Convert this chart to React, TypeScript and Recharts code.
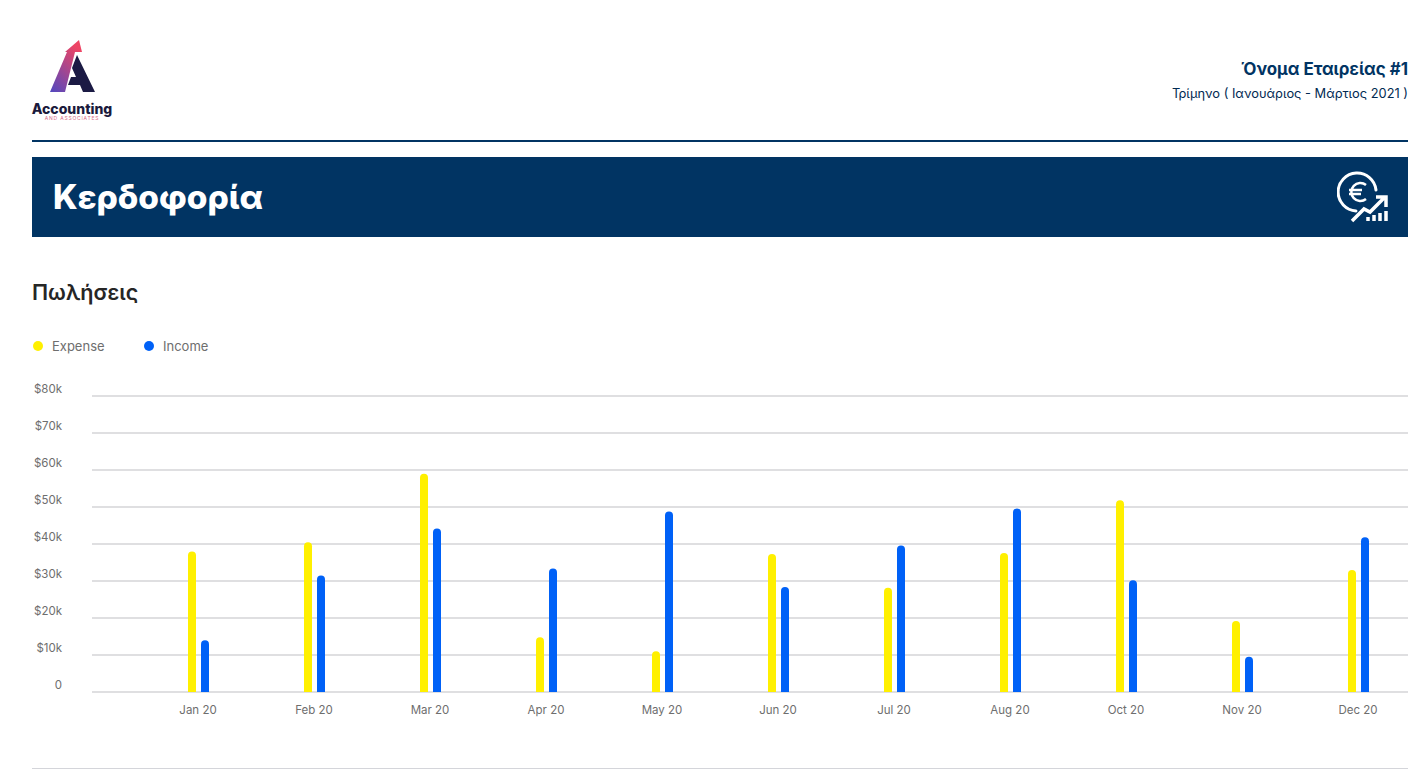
import { Bar, BarChart, CartesianGrid, Legend, XAxis, YAxis } from 'recharts';

const months = ['Jan 20', 'Feb 20', 'Mar 20', 'Apr 20', 'May 20', 'Jun 20', 'Jul 20', 'Aug 20', 'Oct 20', 'Nov 20', 'Dec 20'];
const expense = [38, 40.5, 59, 14.8, 11, 37.3, 28.2, 37.6, 51.8, 19.2, 33];
const income = [14, 31.5, 44.2, 33.4, 48.8, 28.4, 39.6, 49.6, 30.2, 9.5, 41.8];
const yTicks = [0, 10, 20, 30, 40, 50, 60, 70, 80];

const data = months.map((name, i) => ({ name, expense: expense[i], income: income[i] }));

const NAVY = '#013463';
const FONT = 'Inter, "Noto Sans", sans-serif';

function LegendRow({ payload }: any) {
    return (
        <div style={{ display: 'flex', fontFamily: FONT, fontSize: 13, color: '#6e6e6e', lineHeight: '16px' }}>
            {(payload || []).map((item: any) => (
                <div key={item.value} style={{ display: 'flex', alignItems: 'center', width: 111 }}>
                    <span style={{ width: 10, height: 10, borderRadius: 5, background: item.color, marginRight: 9 }} />
                    {item.value}
                </div>
            ))}
        </div>
    );
}

function Logo() {
    return (
        <svg width={100} height={100} viewBox="0 0 100 100" style={{ position: 'absolute', left: 25, top: 30 }}>
            <defs>
                <linearGradient id="logoArrow" x1="0" y1="1" x2="0.6" y2="0">
                    <stop offset="0" stopColor="#5148c0" />
                    <stop offset="1" stopColor="#ee4464" />
                </linearGradient>
            </defs>
            <polygon points="25,62 42,22 40,22 54,10 57,22 50,22 40,62" fill="url(#logoArrow)" />
            <polygon points="52,25 70,62 58,62 55,55 43,55 46,47 51,47 47,38" fill="#1b1a44" />
        </svg>
    );
}

function ProfitIcon() {
    return (
        <svg width={54} height={54} viewBox="0 0 54 54" fill="none" stroke="#fff" strokeWidth={3} style={{ position: 'absolute', left: 1337, top: 171 }}>
            <path d="M39 19 A19 19 0 1 0 19 40" strokeLinecap="round" />
            <path d="M29 14 A9 9 0 1 0 29 28 M12 19 H25 M12 23 H24" strokeWidth={2.5} />
            <path d="M15 50 L27 38 L33 41 L47 27 M39 26 H49 V36" strokeWidth={3.5} />
            <path d="M31 46 V50 M37 44 V50 M43 42 V50 M49 40 V50" strokeWidth={3.5} />
        </svg>
    );
}

export default function App() {
    return (
        <div style={{ position: 'absolute', left: 0, top: 0, width: 1419, height: 769, background: '#fff', overflow: 'hidden', fontFamily: FONT }}>
            <Logo />
            <div style={{ position: 'absolute', left: 22, width: 100, top: 100, textAlign: 'center', fontSize: 14, fontWeight: 800, color: '#1b1a3c' }}>Accounting</div>
            <div style={{ position: 'absolute', left: 22, width: 100, top: 115, textAlign: 'center', fontSize: 5, letterSpacing: 0.8, color: '#d86a86' }}>AND ASSOCIATES</div>

            <div style={{ position: 'absolute', right: 11, top: 59, fontSize: 16.9, fontWeight: 700, color: NAVY }}>Όνομα Εταιρείας #1</div>
            <div style={{ position: 'absolute', right: 11, top: 86, fontSize: 12.85, color: '#012a52' }}>Τρίμηνο ( Ιανουάριος - Μάρτιος 2021 )</div>

            <div style={{ position: 'absolute', left: 32, width: 1376, top: 140, height: 2, background: NAVY }} />
            <div style={{ position: 'absolute', left: 32, width: 1376, top: 157, height: 80, background: NAVY }} />
            <div style={{ position: 'absolute', left: 53, top: 175, fontSize: 33.4, fontWeight: 800, color: '#fff', lineHeight: '44px' }}>Κερδοφορία</div>
            <ProfitIcon />

            <div style={{ position: 'absolute', left: 32, top: 278, fontSize: 21.6, fontWeight: 600, color: '#262626', lineHeight: '28px' }}>Πωλήσεις</div>

            <div style={{ position: 'absolute', left: 0, top: 330 }}>
                <BarChart
                    width={1419}
                    height={400}
                    data={data}
                    barSize={8}
                    barGap={5}
                    margin={{ top: 66, right: 11, left: 0, bottom: 8 }}
                >
                    <CartesianGrid vertical={false} stroke="#bfc0c4" strokeWidth={1.2} />
                    <XAxis
                        dataKey="name"
                        padding={{ left: 48, right: -8 }}
                        axisLine={false}
                        tickLine={false}
                        tickMargin={8}
                        interval={0}
                        tick={{ fill: '#6e6e6e', fontSize: 11.5, fontFamily: FONT }}
                    />
                    <YAxis
                        width={92}
                        domain={[0, 80]}
                        ticks={yTicks}
                        axisLine={false}
                        tickLine={false}
                        tickMargin={24}
                        tickFormatter={(v: number) => (v === 0 ? '0' : `$${v}k`)}
                        tick={{ fill: '#6e6e6e', fontSize: 11.5, fontFamily: FONT, dy: -7 }}
                    />
                    <Legend
                        verticalAlign="middle"
                        align="center"
                        wrapperStyle={{ top: 8, left: 33, width: 300 }}
                        content={<LegendRow />}
                    />
                    <Bar dataKey="expense" name="Expense" fill="#fff000" radius={[4, 4, 0, 0]} isAnimationActive={false} />
                    <Bar dataKey="income" name="Income" fill="#0061f7" radius={[4, 4, 0, 0]} isAnimationActive={false} />
                </BarChart>
            </div>

            <div style={{ position: 'absolute', left: 32, width: 1376, top: 768, height: 1, background: '#d4d5da' }} />
        </div>
    );
}
